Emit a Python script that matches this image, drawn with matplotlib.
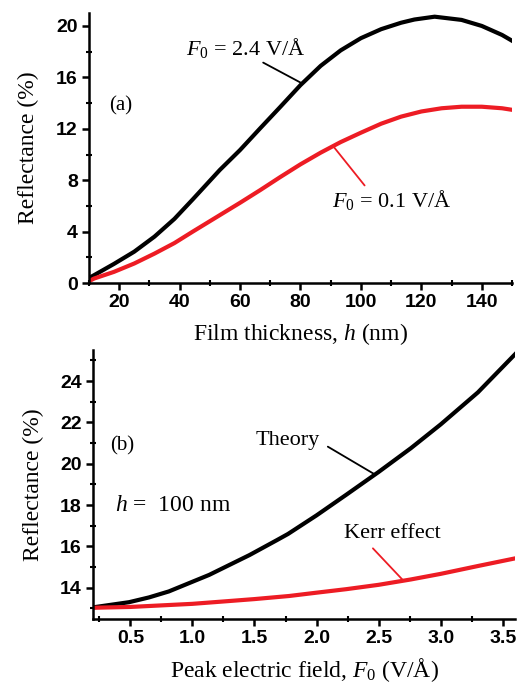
import matplotlib
matplotlib.use("Agg")
import matplotlib.pyplot as plt
from matplotlib.ticker import MultipleLocator

plt.rcParams["font.family"] = "Liberation Serif"
plt.rcParams["mathtext.fontset"] = "custom"
plt.rcParams["mathtext.rm"] = "Liberation Serif"
plt.rcParams["mathtext.it"] = "Liberation Serif:italic"

RED = "#ed1c24"

# panel (a): reflectance vs film thickness
h_high = [10, 11.7, 18.3, 25, 31.7, 38.3, 44.3, 53.3, 60, 66.7, 73.3, 80,
          86.7, 93.3, 100, 106.7, 113.3, 117.7, 124.4, 133.3, 140, 146.7, 150]
r_high = [0.4, 0.62, 1.5, 2.45, 3.62, 5.0, 6.5, 8.8, 10.35, 12.05, 13.7,
          15.4, 16.9, 18.1, 19.05, 19.75, 20.25, 20.5, 20.72, 20.47, 20.0,
          19.3, 18.85]
h_low = [10, 11.7, 18.3, 25, 31.7, 38.3, 44.3, 53.3, 60, 66.7, 73.3, 80,
         86.7, 93.3, 100, 106.7, 113.3, 120, 126.7, 133.3, 140, 146.7, 150]
r_low = [0.15, 0.36, 0.88, 1.53, 2.3, 3.12, 4.0, 5.29, 6.25, 7.24, 8.25,
         9.24, 10.15, 10.97, 11.7, 12.4, 12.95, 13.35, 13.6, 13.72, 13.72,
         13.6, 13.48]

# panel (b): reflectance vs peak field at h = 100 nm
f_theory = [0.2, 0.49, 0.65, 0.81, 1.135, 1.46, 1.68, 1.77, 2.0, 2.24, 2.5,
            2.76, 3.0, 3.3, 3.6]
r_theory = [13.05, 13.3, 13.53, 13.82, 14.62, 15.58, 16.3, 16.6, 17.5, 18.5,
            19.6, 20.75, 21.9, 23.45, 25.3]
f_kerr = [0.2, 0.5, 0.7, 1.0, 1.24, 1.5, 1.78, 2.0, 2.24, 2.5, 2.76, 3.0,
          3.3, 3.6]
r_kerr = [13.03, 13.07, 13.13, 13.22, 13.33, 13.45, 13.6, 13.76, 13.93,
          14.14, 14.4, 14.67, 15.05, 15.42]

fig = plt.figure(figsize=(5.23, 6.89), dpi=100)
ax1 = fig.add_axes([0.170, 0.589, 0.809, 0.392])
ax2 = fig.add_axes([0.178, 0.102, 0.807, 0.390])


def style(ax):
    for s in ["top", "right"]:
        ax.spines[s].set_visible(False)
    for s in ["left", "bottom"]:
        ax.spines[s].set_linewidth(1.8)
    ax.tick_params(which="major", direction="out", length=5, width=1.8,
                   labelsize=14, pad=3)
    ax.tick_params(which="minor", direction="inout", length=5, width=1.5)
    for lab in ax.get_xticklabels() + ax.get_yticklabels():
        lab.set_fontfamily("Liberation Sans")
        lab.set_fontweight("bold")


ax1.plot(h_high, r_high, color="black", lw=3, solid_joinstyle="round")
ax1.plot(h_low, r_low, color=RED, lw=3, solid_joinstyle="round")
ax1.set_xlim(10, 150)
ax1.set_ylim(0, 21)
ax1.xaxis.set_major_locator(MultipleLocator(20))
ax1.xaxis.set_minor_locator(MultipleLocator(10))
ax1.yaxis.set_major_locator(MultipleLocator(4))
ax1.yaxis.set_minor_locator(MultipleLocator(2))
style(ax1)
ax1.set_xlabel("Film thickness, $h$ (nm)", fontsize=17, labelpad=7)
ax1.set_ylabel("Reflectance (%)", fontsize=17, labelpad=12)
ax1.text(0.076, 0.655, "(a)", transform=ax1.transAxes, fontsize=15,
         va="center", ha="center")
ax1.annotate("$F_0$ = 2.4 V/Å", xy=(80, 15.6), xytext=(62, 18.3),
             fontsize=16, ha="center", va="center",
             arrowprops=dict(arrowstyle="-", color="black", lw=1.3,
                             shrinkA=0, shrinkB=0, relpos=(0.6, 0.0)))
ax1.annotate("$F_0$ = 0.1 V/Å", xy=(91, 10.6), xytext=(110, 6.45),
             fontsize=16, ha="center", va="center",
             arrowprops=dict(arrowstyle="-", color=RED, lw=1.3,
                             shrinkA=0, shrinkB=0, relpos=(0.28, 1.1)))

ax2.plot(f_theory, r_theory, color="black", lw=3, solid_joinstyle="round")
ax2.plot(f_kerr, r_kerr, color=RED, lw=3, solid_joinstyle="round")
ax2.set_xlim(0.2, 3.6)
ax2.set_ylim(12.5, 25.5)
ax2.xaxis.set_major_locator(MultipleLocator(0.5))
ax2.xaxis.set_minor_locator(MultipleLocator(0.25))
ax2.yaxis.set_major_locator(MultipleLocator(2))
ax2.yaxis.set_minor_locator(MultipleLocator(1))
style(ax2)
ax2.set_xlabel("Peak electric field, $F_0$ (V/Å)", fontsize=17, labelpad=7)
ax2.set_ylabel("Reflectance (%)", fontsize=17, labelpad=12)
ax2.text(0.069, 0.643, "(b)", transform=ax2.transAxes, fontsize=15,
         va="center", ha="center")
ax2.text(0.052, 0.42, "$h$ =  100 nm", transform=ax2.transAxes, fontsize=17,
         va="center", ha="left")
ax2.annotate("Theory", xy=(2.47, 19.48), xytext=(1.77, 21.1),
             fontsize=16, ha="center", va="center",
             arrowprops=dict(arrowstyle="-", color="black", lw=1.3,
                             shrinkA=0, shrinkB=0, relpos=(1.12, 0.2)))
ax2.annotate("Kerr effect", xy=(2.70, 14.34), xytext=(2.61, 16.64),
             fontsize=16, ha="center", va="center",
             arrowprops=dict(arrowstyle="-", color=RED, lw=1.3,
                             shrinkA=0, shrinkB=0, relpos=(0.3, -0.3)))

fig.savefig("out.png", dpi=100)
